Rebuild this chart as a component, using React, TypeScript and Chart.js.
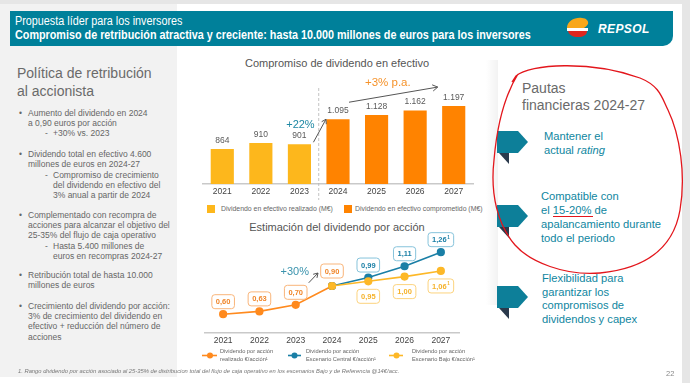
import React, { useEffect, useRef } from 'react';
import { Chart, registerables } from 'chart.js';
Chart.register(...registerables);

// ---------- data ----------
const years = ['2021', '2022', '2023', '2024', '2025', '2026', '2027'];
const cashRealized = [864, 910, 901, null, null, null, null];
const cashCommitted = [null, null, null, 1095, 1128, 1162, 1197];
const dpsRealized = [0.6, 0.63, 0.7, 0.9, null, null, null];
const dpsCentral = [null, null, null, 0.9, 0.99, 1.11, 1.26];
const dpsLow = [null, null, null, 0.9, 0.95, 1.0, 1.06];
const dpsFootnoteIdx = [6];

const FONT = '"Liberation Sans", Arial, sans-serif';
const TEAL = '#0f86a0';
const C_YEL = '#FDB71C';
const C_ORA = '#FF8300';
const C_LO = '#FDB827';
const C_BLUE = '#1A7FA6';
const C_REAL = '#FF8A1E';

function arrow(ctx: CanvasRenderingContext2D, x1: number, y1: number, x2: number, y2: number, color: string, head = 6) {
  ctx.save();
  ctx.strokeStyle = color;
  ctx.lineWidth = 1;
  ctx.beginPath();
  ctx.moveTo(x1, y1);
  ctx.lineTo(x2, y2);
  const a = Math.atan2(y2 - y1, x2 - x1);
  ctx.moveTo(x2 - head * Math.cos(a - 0.55), y2 - head * Math.sin(a - 0.55));
  ctx.lineTo(x2, y2);
  ctx.lineTo(x2 - head * Math.cos(a + 0.55), y2 - head * Math.sin(a + 0.55));
  ctx.stroke();
  ctx.restore();
}

const fmtThousands = (v: number) =>
  v >= 1000 ? `${Math.floor(v / 1000)}.${String(v % 1000).padStart(3, '0')}` : String(v);
const fmtDec = (v: number) => v.toFixed(2).replace('.', ',');

function BarChart() {
  const ref = useRef<HTMLCanvasElement>(null);
  useEffect(() => {
    const annot = {
      id: 'barAnnot',
      afterDatasetsDraw(chart: any) {
        const ctx = chart.ctx as CanvasRenderingContext2D;
        const x = chart.scales.x;
        const y = chart.scales.y;
        ctx.save();
        ctx.font = `8.5px ${FONT}`;
        ctx.fillStyle = '#5a5a5a';
        ctx.textAlign = 'center';
        ctx.textBaseline = 'middle';
        years.forEach((_, i) => {
          const v = (cashRealized[i] ?? cashCommitted[i]) as number | null;
          if (v == null) return;
          ctx.fillText(fmtThousands(v), x.getPixelForValue(i), y.getPixelForValue(v) - 8.5);
        });
        // divider
        const xd = (x.getPixelForValue(2) + x.getPixelForValue(3)) / 2;
        ctx.setLineDash([3, 2]);
        ctx.strokeStyle = '#b5b5b5';
        ctx.lineWidth = 0.8;
        ctx.beginPath();
        ctx.moveTo(xd, chart.chartArea.top + 4);
        ctx.lineTo(xd, chart.height);
        ctx.stroke();
        ctx.setLineDash([]);
        // +22%
        const y23 = y.getPixelForValue(cashRealized[2]);
        const y24 = y.getPixelForValue(cashCommitted[3]);
        const y27 = y.getPixelForValue(cashCommitted[6]);
        ctx.font = `11px ${FONT}`;
        ctx.fillStyle = '#1d87a3';
        ctx.fillText('+22%', x.getPixelForValue(2) + 1, y24 + 6);
        arrow(ctx, x.getPixelForValue(2) + 14, y23 - 2, x.getPixelForValue(3) - 12, y24, '#555', 5);
        // +3% p.a.
        ctx.font = `11.5px ${FONT}`;
        ctx.fillStyle = '#F5922A';
        ctx.fillText('+3% p.a.', (x.getPixelForValue(4) + x.getPixelForValue(5)) / 2 - 8, chart.chartArea.top - 1);
        arrow(ctx, x.getPixelForValue(3) + 11, y24 - 17, x.getPixelForValue(6) - 16, y27 - 19, '#555', 6);
        ctx.restore();
      },
    };
    const chart = new Chart(ref.current!, {
      type: 'bar',
      data: {
        labels: years,
        datasets: [
          { label: 'Dividendo en efectivo realizado (M€)', data: cashRealized as any, backgroundColor: C_YEL, grouped: false, barPercentage: 0.6, categoryPercentage: 1 } as any,
          { label: 'Dividendo en efectivo comprometido (M€)', data: cashCommitted as any, backgroundColor: C_ORA, grouped: false, barPercentage: 0.6, categoryPercentage: 1 } as any,
        ],
      },
      options: {
        animation: false,
        responsive: false,
        maintainAspectRatio: false,
        layout: { padding: { left: 8, right: 12, top: 14, bottom: 0 } },
        plugins: { legend: { display: false }, tooltip: { enabled: false } },
        scales: {
          x: {
            grid: { display: false, drawTicks: false },
            border: { color: '#c9c9c9', width: 1.5 },
            ticks: { color: '#444', font: { size: 8.5, family: FONT }, padding: 3 },
            afterFit: (s: any) => { s.height = 16; },
          } as any,
          y: { display: false, min: 593, max: 1368 },
        },
      },
      plugins: [annot],
    });
    return () => chart.destroy();
  }, []);
  return <canvas ref={ref} width={290} height={130} style={{ position: 'absolute', left: 195, top: 70, width: 290, height: 130 }} />;
}

function drawBox(ctx: CanvasRenderingContext2D, cx: number, cy: number, text: string, sup: boolean, border: string, color: string) {
  ctx.save();
  ctx.font = `bold 7.5px ${FONT}`;
  const tw = ctx.measureText(text).width;
  ctx.font = `bold 4.5px ${FONT}`;
  const sw = sup ? ctx.measureText('1').width + 0.5 : 0;
  const w = tw + sw + 8;
  const h = 14;
  const x0 = cx - w / 2;
  const y0 = cy - h / 2;
  ctx.beginPath();
  (ctx as any).roundRect(x0, y0, w, h, 3);
  ctx.fillStyle = '#fff';
  ctx.fill();
  ctx.strokeStyle = border;
  ctx.lineWidth = 1;
  ctx.stroke();
  ctx.fillStyle = color;
  ctx.textBaseline = 'middle';
  ctx.textAlign = 'left';
  ctx.font = `bold 7.5px ${FONT}`;
  ctx.fillText(text, x0 + 4, cy + 0.5);
  if (sup) {
    ctx.font = `bold 4.5px ${FONT}`;
    ctx.fillText('1', x0 + 4 + tw + 0.5, cy - 2);
  }
  ctx.restore();
}

function LineChart() {
  const ref = useRef<HTMLCanvasElement>(null);
  useEffect(() => {
    const annot = {
      id: 'lineAnnot',
      afterDatasetsDraw(chart: any) {
        const ctx = chart.ctx as CanvasRenderingContext2D;
        const x = chart.scales.x;
        const y = chart.scales.y;
        dpsRealized.forEach((v, i) => {
          if (v == null) return;
          const off = i === 3 ? -15 : -12.5;
          drawBox(ctx, x.getPixelForValue(i), y.getPixelForValue(v) + off, fmtDec(v), dpsFootnoteIdx.includes(i), '#F9B57A', '#F0862A');
        });
        dpsCentral.forEach((v, i) => {
          if (v == null || i <= 3) return;
          drawBox(ctx, x.getPixelForValue(i), y.getPixelForValue(v) - 12.5, fmtDec(v), dpsFootnoteIdx.includes(i), '#86C3DB', C_BLUE);
        });
        dpsLow.forEach((v, i) => {
          if (v == null || i <= 3) return;
          drawBox(ctx, x.getPixelForValue(i), y.getPixelForValue(v) + 15, fmtDec(v), dpsFootnoteIdx.includes(i), '#FCD37E', '#F5B22B');
        });
        const y23 = y.getPixelForValue(dpsRealized[2]);
        const y24 = y.getPixelForValue(dpsRealized[3]);
        ctx.save();
        ctx.font = `11px ${FONT}`;
        ctx.fillStyle = '#3a93ad';
        ctx.textAlign = 'center';
        ctx.textBaseline = 'middle';
        ctx.fillText('+30%', x.getPixelForValue(2) - 1, y24 - 14);
        ctx.restore();
        arrow(ctx, x.getPixelForValue(2) + 13, y23 - 22, x.getPixelForValue(3) - 14, y24 - 13, '#555', 5);
      },
    };
    const ds = (data: any, color: string) => ({
      data,
      borderColor: color,
      backgroundColor: color,
      pointBackgroundColor: color,
      pointBorderColor: color,
      pointRadius: 3.3,
      borderWidth: 1.6,
      tension: 0,
      spanGaps: false,
    });
    const chart = new Chart(ref.current!, {
      type: 'line',
      data: {
        labels: years,
        datasets: [ds(dpsLow, C_LO), ds(dpsCentral, C_BLUE), ds(dpsRealized, C_REAL)],
      },
      options: {
        animation: false,
        responsive: false,
        maintainAspectRatio: false,
        layout: { padding: { left: 10, right: 11, top: 7, bottom: 0 } },
        plugins: { legend: { display: false }, tooltip: { enabled: false } },
        scales: {
          x: {
            offset: true,
            grid: { display: false, drawTicks: false },
            border: { color: '#c9c9c9', width: 1.5 },
            ticks: { color: '#444', font: { size: 8.5, family: FONT }, padding: 3 },
            afterFit: (s: any) => { s.height = 16; },
          } as any,
          y: { display: false, min: 0.4, max: 1.4 },
        },
      },
      plugins: [annot],
    });
    return () => chart.destroy();
  }, []);
  return <canvas ref={ref} width={275} height={117} style={{ position: 'absolute', left: 195, top: 232, width: 275, height: 117 }} />;
}

function T(props: { x: number; y: number; size: number; color?: string; weight?: any; italic?: boolean; center?: boolean; family?: string; children: any; ls?: number; sx?: number }) {
  const { x, y, size, color = '#666', weight = 'normal', italic, center, family = FONT, children, ls, sx } = props;
  const lh = size * 1.2;
  let transform: string | undefined = undefined;
  if (center) transform = 'translateX(-50%)';
  if (sx) transform = `scaleX(${sx})`;
  return (
    <div
      style={{
        position: 'absolute',
        left: x,
        top: y - lh / 2,
        fontSize: size,
        lineHeight: `${lh}px`,
        color,
        fontWeight: weight,
        fontStyle: italic ? 'italic' : 'normal',
        fontFamily: family,
        whiteSpace: 'nowrap',
        transform,
        transformOrigin: 'left center',
        letterSpacing: ls,
      }}
    >
      {children}
    </div>
  );
}

function Left() {
  const L = (y: number, text: string, kind: 'b' | 'c' | 's' | 'sc') => {
    const els: any[] = [];
    const base = kind === 'b' || kind === 'c' ? 28 : 53;
    if (kind === 'b') els.push(<T key={'b' + y} x={19} y={y} size={8.5}>•</T>);
    if (kind === 's') els.push(<T key={'s' + y} x={45} y={y} size={8.5}>-</T>);
    els.push(<T key={'t' + y} x={base} y={y} size={8.5}>{text}</T>);
    return els;
  };
  return (
    <>
      <div style={{ position: 'absolute', left: 0, top: 4, width: 177, height: 373, background: '#f2f2f2' }} />
      <T x={17} y={73} size={14} color="#6a6a6a">Política de retribución</T>
      <T x={17} y={91} size={14} color="#6a6a6a">al accionista</T>
      {L(113, 'Aumento del dividendo en 2024', 'b')}
      {L(123, 'a 0,90 euros por acción', 'c')}
      {L(133, '+30% vs. 2023', 's')}
      {L(154, 'Dividendo total en efectivo 4.600', 'b')}
      {L(164, 'millones de euros en 2024-27', 'c')}
      {L(175, 'Compromiso de crecimiento', 's')}
      {L(185, 'del dividendo en efectivo del', 'sc')}
      {L(195, '3% anual a partir de 2024', 'sc')}
      {L(215, 'Complementado con recompra de', 'b')}
      {L(225, 'acciones para alcanzar el objetivo del', 'c')}
      {L(235, '25-35% del flujo de caja operativo', 'c')}
      {L(246, 'Hasta 5.400 millones de', 's')}
      {L(256, 'euros en recompras 2024-27', 'sc')}
      {L(275.5, 'Retribución total de hasta 10.000', 'b')}
      {L(285.5, 'millones de euros', 'c')}
      {L(306, 'Crecimiento del dividendo por acción:', 'b')}
      {L(316, '3% de crecimiento del dividendo en', 'c')}
      {L(326.5, 'efectivo + reducción del número de', 'c')}
      {L(337, 'acciones', 'c')}
    </>
  );
}

export default function App() {
  return (
    <div style={{ position: 'fixed', left: 0, top: 0, width: 690, height: 383, overflow: 'hidden', background: '#e6e6e6', fontFamily: FONT }}>
      <div style={{ position: 'absolute', left: 0, top: 4, width: 682, height: 379, background: '#fff' }} />
      <Left />
      {/* right panel left shadow */}
      <div style={{ position: 'absolute', left: 486, top: 60, width: 12, height: 245, background: 'linear-gradient(to right, rgba(0,0,0,0), rgba(0,0,0,0.05))' }} />
      {/* header */}
      <div style={{ position: 'absolute', left: 10, top: 11, width: 663, height: 35, background: '#00809A', borderBottomRightRadius: 10 }} />
      <T x={15} y={21} size={12} color="#fff" sx={0.9}>Propuesta líder para los inversores</T>
      <T x={15} y={34.5} size={13} color="#fff" weight="bold" sx={0.83}>Compromiso de retribución atractiva y creciente: hasta 10.000 millones de euros para los inversores</T>
      <T x={598} y={29} size={12} color="#fff" weight="bold" italic ls={0.4}>REPSOL</T>

      {/* middle titles */}
      <T x={337} y={64} size={11} color="#555" center>Compromiso de dividendo en efectivo</T>
      <T x={337} y={228} size={11} color="#555" center>Estimación del dividendo por acción</T>

      <BarChart />
      <LineChart />

      {/* bar legend */}
      <div style={{ position: 'absolute', left: 207, top: 205, width: 8, height: 8, background: C_YEL }} />
      <T x={221} y={209} size={6.9} color="#666">Dividendo en efectivo realizado (M€)</T>
      <div style={{ position: 'absolute', left: 344, top: 205, width: 8, height: 8, background: C_ORA }} />
      <T x={355} y={209} size={6.9} color="#666">Dividendo en efectivo comprometido (M€)</T>

      {/* line legend */}
      <T x={220} y={351} size={5.7} color="#666">Dividendo por acción</T>
      <T x={220} y={359.5} size={5.7} color="#666">realizado €/acción¹</T>
      <T x={306} y={351} size={5.7} color="#666">Dividendo por acción</T>
      <T x={306} y={359.5} size={5.7} color="#666">Escenario Central €/acción¹</T>
      <T x={412} y={351} size={5.7} color="#666">Dividendo por acción</T>
      <T x={412} y={359.5} size={5.7} color="#666">Escenario Bajo €/acción¹</T>

      {/* right panel */}
      <T x={522} y={88} size={14} color="#6a6a6a">Pautas</T>
      <T x={522} y={105} size={14} color="#6a6a6a">financieras 2024-27</T>
      <T x={544} y={137} size={11.2} color={TEAL}>Mantener el</T>
      <T x={544} y={150.5} size={11.2} color={TEAL}>actual <i>rating</i></T>
      <T x={541} y={197} size={11.2} color={TEAL}>Compatible con</T>
      <T x={541} y={211} size={11.2} color={TEAL}>el 15-20% de</T>
      <T x={541} y={225} size={11.2} color={TEAL}>apalancamiento durante</T>
      <T x={541} y={239} size={11.2} color={TEAL}>todo el periodo</T>
      <T x={542} y={279} size={11.2} color={TEAL}>Flexibilidad para</T>
      <T x={542} y={292.5} size={11.2} color={TEAL}>garantizar los</T>
      <T x={542} y={306} size={11.2} color={TEAL}>compromisos de</T>
      <T x={542} y={319.5} size={11.2} color={TEAL}>dividendos y capex</T>

      <T x={18} y={371.5} size={5.8} color="#777" italic>1. Rango dividendo por acción asociado al 25-35% de distribucion total del flujo de caja operativo en los escenarios Bajo y de Referencia @14€/acc.</T>
      <T x={666} y={373} size={7.5} color="#888">22</T>

      <svg width={690} height={383} style={{ position: 'absolute', left: 0, top: 0, pointerEvents: 'none' }}>
        {/* logo */}
        <path d="M567,28 C567,21 575,17 582,18 C586,18 589,21 588,24 C587,26 585,27 584,28 Z" fill="#F8A71A" />
        <path d="M567,28 L588,28 L588,31 L567,31 Z" fill="#fff" />
        <path d="M568,31 L587,31 C587,35 583,37 578,37 C573,37 569,35 568,31 Z" fill="#E0261E" />
        {/* legend markers */}
        <line x1={202} y1={355.5} x2={217} y2={355.5} stroke={C_REAL} strokeWidth={1.6} />
        <circle cx={210} cy={355.5} r={3} fill={C_REAL} />
        <line x1={288} y1={355.5} x2={301} y2={355.5} stroke={C_BLUE} strokeWidth={1.6} />
        <circle cx={294.5} cy={355.5} r={3} fill={C_BLUE} />
        <line x1={389} y1={355.5} x2={403} y2={355.5} stroke={C_LO} strokeWidth={1.6} />
        <circle cx={396.5} cy={355.5} r={3} fill={C_LO} />
        {/* pentagons */}
        {[142, 216, 297].map((cy) => (
          <g key={cy}>
            <polygon points={`499,${cy + 11} 509,${cy + 11} 509,${cy + 22}`} fill="#2b3a4c" />
            <polygon points={`497,${cy - 11} 518,${cy - 11} 528,${cy} 518,${cy + 11} 497,${cy + 11}`} fill="#0D7F99" />
          </g>
        ))}
        {/* red loop */}
        <path
          d="M512,82 L516,76 C530,64 590,60 640,78 C660,86 662,98 668,110 C680,135 686,175 680,210 C674,245 650,268 600,273 C565,276 530,262 515,245 C498,225 490,195 494,160 C497,125 505,95 518,74"
          fill="none"
          stroke="#E3161C"
          strokeWidth={1.3}
        />
        <line x1={553} y1={216.5} x2={593} y2={216.5} stroke="#E3161C" strokeWidth={1.2} />
      </svg>
    </div>
  );
}
